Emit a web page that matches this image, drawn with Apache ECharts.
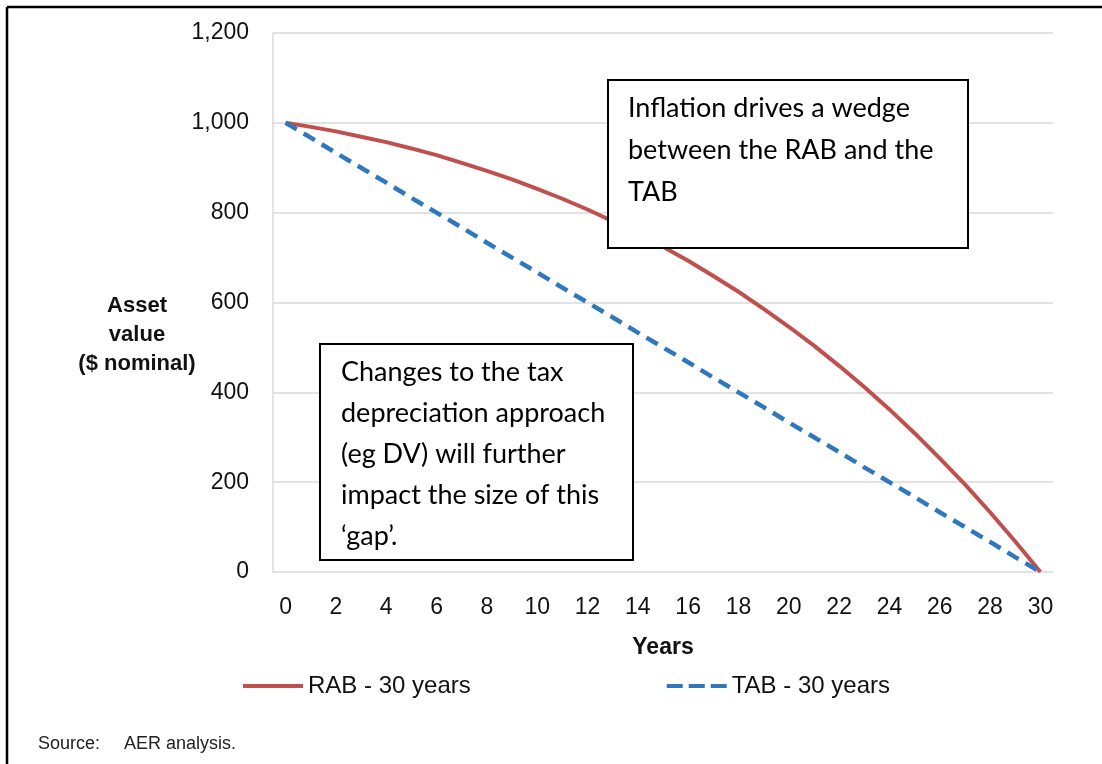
<!DOCTYPE html>
<html>
<head>
<meta charset="utf-8">
<script src="https://cdn.jsdelivr.net/npm/echarts@6/dist/echarts.min.js"></script>
<style>
  html, body { margin: 0; padding: 0; background: #fff; }
  #chart { width: 1102px; height: 764px; }
</style>
</head>
<body>
<div id="chart"></div>
<script>
  // years 0..30
  let years = []
  for (let y = 0; y <= 30; y++) years.push(String(y))

  // values ($ nominal)
  let rab = [1000, 991, 981, 969, 957, 943, 928, 911, 893, 874, 853, 831, 807, 781, 754, 724,
             693, 659, 624, 586, 546, 504, 459, 412, 362, 309, 253, 195, 133, 68, 0]
  let tab = [1000, 967, 933, 900, 867, 833, 800, 767, 733, 700, 667, 633, 600, 567, 533, 500,
             467, 433, 400, 367, 333, 300, 267, 233, 200, 167, 133, 100, 67, 33, 0]

  let seriesNames = ['RAB - 30 years', 'TAB - 30 years']
  let yTicks = [0, 200, 400, 600, 800, 1000, 1200]

  let noteTop = ['Inflation drives a wedge', 'between the RAB and the', 'TAB']
  let noteBottom = ['Changes to the tax', 'depreciation approach', '(eg DV) will further',
                    'impact the size of this', '\u2018gap\u2019.']

  let tickFont = '"Liberation Sans", Arial, sans-serif'
  let noteFont = 'Lato, "Open Sans", sans-serif'

  let chart = echarts.init(document.getElementById('chart'))

  let option = {
    animation: false,
    backgroundColor: '#fff',
    grid: { left: 273, right: 49, top: 33, bottom: 192, containLabel: false },
    legend: {
      data: [
        { name: seriesNames[0], icon: 'rect' },
        { name: seriesNames[1], icon: 'path://M0,0h16v4h-16z M22,0h16v4h-16z M44,0h16v4h-16z' }
      ],
      left: 238,
      top: 669,
      itemWidth: 60,
      itemHeight: 4,
      itemGap: 196,
      textStyle: { fontFamily: tickFont, fontSize: 24, color: '#111' }
    },
    xAxis: {
      type: 'category',
      data: years,
      boundaryGap: true,
      name: 'Years',
      nameLocation: 'middle',
      nameGap: 64,
      nameTextStyle: { fontFamily: tickFont, fontSize: 23, fontWeight: 'bold', color: '#111' },
      axisLine: { show: false },
      axisTick: { show: false },
      axisLabel: { interval: 1, margin: 24, fontFamily: tickFont, fontSize: 23, color: '#111' }
    },
    yAxis: {
      type: 'value',
      min: yTicks[0],
      max: yTicks[yTicks.length - 1],
      interval: 200,
      axisLine: { show: true, lineStyle: { color: '#d9d9d9', width: 1.5 } },
      axisTick: { show: false },
      splitLine: { lineStyle: { color: '#d9d9d9', width: 1.5 } },
      axisLabel: {
        margin: 24,
        fontFamily: tickFont,
        fontSize: 23,
        color: '#111',
        formatter: function (v) { return v.toLocaleString('en-US') }
      }
    },
    series: [
      {
        name: seriesNames[0],
        type: 'line',
        data: rab,
        symbol: 'none',
        color: '#c0504d',
        lineStyle: { color: '#c0504d', width: 4 }
      },
      {
        name: seriesNames[1],
        type: 'line',
        data: tab,
        symbol: 'none',
        color: '#2f78bd',
        lineStyle: { color: '#2f78bd', width: 4.5, type: [13, 8] }
      }
    ],
    graphic: [
      // outer frame (left and top)
      { type: 'line', shape: { x1: 7, y1: 7, x2: 7, y2: 764 }, style: { stroke: '#000', lineWidth: 2.5 } },
      { type: 'line', shape: { x1: 7, y1: 7, x2: 1102, y2: 7 }, style: { stroke: '#000', lineWidth: 2.5 } },
      // y axis title
      {
        type: 'text', x: 137, y: 291,
        style: {
          text: 'Asset\nvalue\n($ nominal)', align: 'center',
          font: 'bold 22px ' + tickFont, lineHeight: 29, fill: '#111'
        }
      },
      // source
      { type: 'text', x: 38, y: 735, style: { text: 'Source:', font: '18px ' + tickFont, fill: '#222' } },
      { type: 'text', x: 124, y: 735, style: { text: 'AER analysis.', font: '18px ' + tickFont, fill: '#222' } },
      // annotation boxes
      { type: 'rect', shape: { x: 608, y: 80, width: 360, height: 168 }, style: { fill: '#fff', stroke: '#000', lineWidth: 2 }, z: 10 },
      {
        type: 'text', x: 628, y: 87, z: 11,
        style: { text: noteTop.join('\n'), font: '27px ' + noteFont, lineHeight: 42, fill: '#000' }
      },
      { type: 'rect', shape: { x: 320, y: 344, width: 313, height: 216 }, style: { fill: '#fff', stroke: '#000', lineWidth: 2 }, z: 10 },
      {
        type: 'text', x: 341, y: 352, z: 11,
        style: { text: noteBottom.join('\n'), font: '27px ' + noteFont, lineHeight: 41, fill: '#000' }
      }
    ]
  }

  chart.setOption(option)
</script>
</body>
</html>
